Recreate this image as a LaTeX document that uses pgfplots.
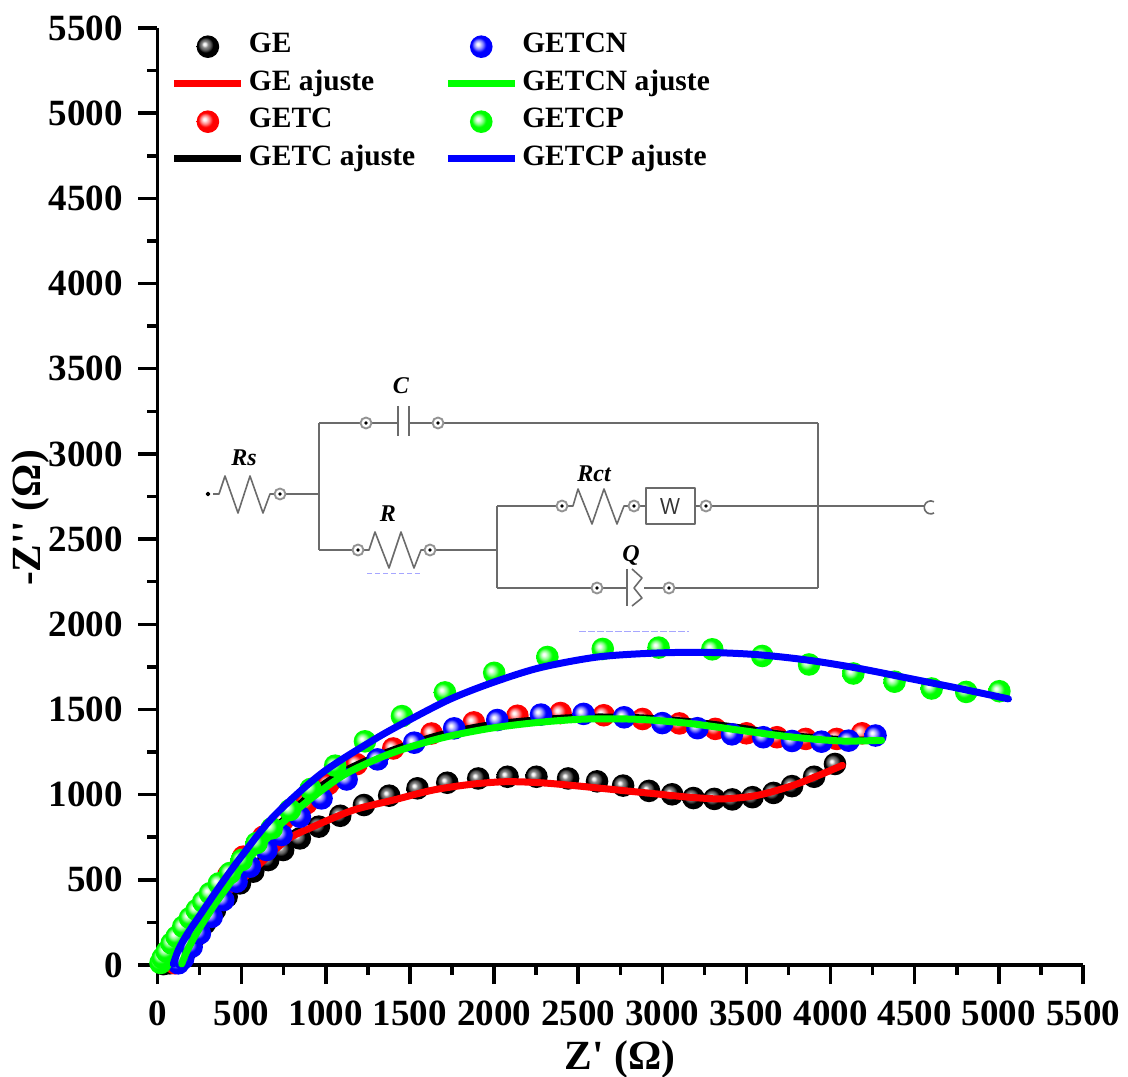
\documentclass[border=0pt]{standalone}
\usepackage{fontspec}
\setmainfont{Liberation Serif}[Ligatures=TeXOff]
\usepackage{pgfplots}
\pgfplotsset{compat=1.18}
\pgfdeclareradialshading{sphk}{\pgfpoint{-8bp}{6bp}}{rgb(0bp)=(1,1,1);rgb(3bp)=(.95,.95,.95);rgb(7bp)=(.55,.55,.55);rgb(12bp)=(.35,.35,.35);rgb(17bp)=(0,0,0);rgb(50bp)=(0,0,0)}
\pgfdeclareradialshading{sphr}{\pgfpoint{-8bp}{6bp}}{rgb(0bp)=(1,1,1);rgb(3bp)=(1,.95,.95);rgb(10bp)=(1,.5,.5);rgb(16bp)=(1,0,0);rgb(50bp)=(1,0,0)}
\pgfdeclareradialshading{sphb}{\pgfpoint{-8bp}{6bp}}{rgb(0bp)=(1,1,1);rgb(3bp)=(.95,.95,1);rgb(10bp)=(.5,.5,1);rgb(16bp)=(0,0,1);rgb(50bp)=(0,0,1)}
\pgfdeclareradialshading{sphg}{\pgfpoint{-8bp}{6bp}}{rgb(0bp)=(1,1,1);rgb(3bp)=(.95,1,.95);rgb(10bp)=(.5,1,.5);rgb(16bp)=(0,1,0);rgb(50bp)=(0,1,0)}
\pgfdeclareplotmark{sphk}{\pgfpathcircle{\pgfpointorigin}{\pgfplotmarksize}\pgfshadepath{sphk}{0}\pgfusepath{discard}}
\pgfdeclareplotmark{sphr}{\pgfpathcircle{\pgfpointorigin}{\pgfplotmarksize}\pgfshadepath{sphr}{0}\pgfusepath{discard}}
\pgfdeclareplotmark{sphb}{\pgfpathcircle{\pgfpointorigin}{\pgfplotmarksize}\pgfshadepath{sphb}{0}\pgfusepath{discard}}
\pgfdeclareplotmark{sphg}{\pgfpathcircle{\pgfpointorigin}{\pgfplotmarksize}\pgfshadepath{sphg}{0}\pgfusepath{discard}}
\pgfplotsset{
 dots/.style={only marks, mark=#1, mark size=11.3pt,
   legend image code/.code={\path (0pt,0pt) (67pt,0pt);\draw[##1] plot coordinates {(33.5pt,-1pt)};}},
 fit/.style={color=#1, line width=7pt, no marks, smooth, tension=0.5, line cap=round, line join=round,
   legend image code/.code={\draw[##1,line cap=butt] (0pt,0pt) -- (67pt,0pt);}},
}
\definecolor{cg}{rgb}{0.42,0.42,0.42}
\begin{document}
\begin{tikzpicture}
\useasboundingbox (-157.5pt,-112pt) rectangle (970.5pt,965pt);
\begin{axis}[
  scale only axis, width=925.5pt, height=937pt, at={(0pt,0pt)}, anchor=south west,
  xmin=0, xmax=5500, ymin=0, ymax=5500, clip=false, clip mode=individual,
  axis lines*=left, axis line style={-, line width=3.7pt},
  xtick distance=500, ytick distance=500, minor tick num=1,
  tick align=outside, tick style={black, line width=3.5pt},
  major tick length=19pt, minor tick length=10pt,
  /pgf/number format/assume math mode=true,
  /pgf/number format/1000 sep={},
  ticklabel style={font=\bfseries\fontsize{37}{37}\selectfont},
  xticklabel style={yshift=-13pt}, yticklabel style={xshift=-12pt},
  xlabel={Z' (Ω)}, ylabel={-Z'' (Ω)},
  xlabel style={font=\bfseries\fontsize{41.5}{41.5}\selectfont, at={(axis description cs:0.4997,-0.101)}, anchor=center},
  ylabel style={font=\bfseries\fontsize{41.5}{41.5}\selectfont, at={(axis description cs:-0.137,0.477)}, anchor=center, rotate=0},
  legend columns=4, transpose legend, legend cell align=left,
  legend style={draw=none, fill=none, at={(axis description cs:0.0145,0.995)}, anchor=north west,
    font=\bfseries\fontsize{29.5}{29.5}\selectfont, inner sep=0pt, outer sep=0pt,
    row sep=11.5pt, nodes={inner sep=0pt, text height=20pt, text depth=6pt},
    /tikz/every even column/.append style={column sep=29pt},
    /tikz/every odd column/.append style={column sep=4pt}},
]
\addplot[dots=sphk] coordinates {(35,5)(74,10)(124,39)(173,88)(223,166)(282,244)(342,323)(411,401)(490,479)(569,548)(658,616)(747,675)(846,743)(959,812)(1086,876)(1227,939)(1377,994)(1545,1037)(1722,1070)(1906,1095)(2080,1105)(2252,1105)(2440,1095)(2612,1078)(2767,1053)(2921,1022)(3058,1002)(3185,980)(3309,975)(3416,972)(3536,985)(3661,1010)(3771,1050)(3902,1105)(4026,1180)};
\addlegendentry{GE}
\addplot[fit=red] coordinates {(140,5)(170,80)(252,225)(411,420)(569,557)(767,733)(926,812)(1163,909)(1401,968)(1638,1027)(1876,1062)(2074,1076)(2272,1070)(2455,1055)(2757,1025)(2958,1005)(3159,985)(3359,975)(3560,995)(3761,1049)(3922,1110)(4070,1172)};
\addlegendentry{GE ajuste}
\addplot[dots=sphr] coordinates {(104,10)(144,59)(183,127)(223,205)(272,303)(332,401)(421,528)(510,636)(629,753)(747,851)(886,949)(1015,1062)(1183,1179)(1401,1271)(1629,1359)(1880,1424)(2139,1463)(2395,1479)(2652,1466)(2883,1444)(3102,1418)(3315,1386)(3500,1360)(3681,1337)(3852,1327)(4036,1327)(4187,1360)};
\addlegendentry{GETC}
\addplot[fit=black] coordinates {(20,10)(60,90)(120,195)(230,345)(350,480)(490,620)(748,850)(926,1015)(1124,1145)(1381,1255)(1678,1350)(1976,1410)(2273,1440)(2550,1455)(2847,1452)(3144,1430)(3441,1395)(3738,1350)(4036,1325)(4200,1320)};
\addlegendentry{GETC ajuste}
\addplot[dots=sphb] coordinates {(124,10)(153,39)(203,107)(252,186)(322,283)(391,381)(470,489)(549,577)(648,675)(737,763)(846,870)(975,978)(1124,1089)(1308,1207)(1526,1305)(1763,1389)(2019,1438)(2279,1470)(2532,1474)(2773,1454)(3000,1420)(3209,1390)(3414,1354)(3600,1337)(3771,1315)(3946,1311)(4107,1317)(4267,1347)};
\addlegendentry{GETCN}
\addplot[fit=green] coordinates {(144,6)(173,78)(243,205)(352,372)(490,558)(589,675)(748,840)(926,988)(1124,1125)(1381,1240)(1678,1330)(1976,1389)(2273,1425)(2556,1444)(2857,1442)(3159,1418)(3460,1378)(3761,1339)(4063,1315)(4304,1319)};
\addlegendentry{GETCN ajuste}
\addplot[dots=sphg] coordinates {(18,12)(31,41)(55,78)(84,127)(114,166)(153,225)(193,276)(233,323)(272,371)(312,421)(365,479)(431,540)(500,616)(589,716)(679,802)(787,910)(910,1033)(1056,1170)(1233,1313)(1453,1461)(1708,1600)(2001,1715)(2317,1808)(2646,1855)(2978,1863)(3297,1853)(3594,1814)(3872,1764)(4135,1711)(4380,1663)(4601,1623)(4806,1603)(5003,1607)};
\addlegendentry{GETCP}
\addplot[fit=blue] coordinates {(94,6)(124,88)(173,176)(253,293)(361,450)(490,626)(688,870)(975,1125)(1282,1320)(1481,1430)(1738,1560)(1995,1659)(2273,1745)(2616,1808)(2958,1831)(3259,1835)(3560,1822)(3862,1790)(4163,1742)(4464,1683)(4766,1623)(5057,1562)};
\addlegendentry{GETCP ajuste}
\end{axis}
\begin{scope}[shift={(-157.5pt,965pt)}, x=1pt, y=-1pt, cg, line width=1.6pt, line join=round]
  \draw[fill=black,draw=black] (208,494) circle (1.5);
  \draw (213,494)--(219,494)--(225,476)--(238,513)--(250,476)--(263,513)--(270,494)--(274,494);
  \draw (286,494)--(319,494);
  \draw (319,423)--(319,550);
  \draw (319,423)--(360,423) (372,423)--(398,423) (409,423)--(432,423) (444,423)--(818,423);
  \draw (398,406)--(398,436) (409,406)--(409,436);
  \draw (319,550)--(352,550);
  \draw (364,550)--(369,550)--(375,532)--(389,568)--(401,532)--(414,568)--(421,550)--(424,550);
  \draw (436,550)--(497,550);
  \draw (497,506)--(497,588);
  \draw (497,506)--(556,506);
  \draw (568,506)--(573,506)--(578,489)--(592,524)--(604,489)--(617,524)--(624,506)--(628,506);
  \draw (640,506)--(646,506);
  \draw (646,488) rectangle (695,524);
  \draw (700,506)--(695,506);
  \draw (712,506)--(925,506);
  \draw (818,423)--(818,588);
  \draw (497,588)--(591,588) (603,588)--(627,588) (644,588)--(663,588) (675,588)--(818,588);
  \draw (627,569)--(627,606);
  \draw (632,569)--(642,578)--(634,588)--(642,598)--(632,606);
  \draw (934,513) arc (60:300:6.5 and 6.5);
  \foreach \px/\py in {280/494,366/423,438/423,358/550,430/550,562/506,634/506,706/506,597/588,669/588}{
    \draw[line width=1.9pt,gray!85] (\px,\py) circle (5.5);
    \fill[black] (\px,\py) circle (1.8);
  }
  \node[text=black!80,font=\sffamily\fontsize{23}{23}\selectfont] at (670,507) {W};
  \begin{scope}[font=\bfseries\itshape\fontsize{24}{24}\selectfont, text=black]
    \node at (401,386) {C};
    \node at (244,458) {Rs};
    \node at (594,474) {Rct};
    \node at (388,514) {R};
    \node at (631,556) {Q};
  \end{scope}
  \draw[blue!35,line width=1pt,dash pattern=on 5pt off 3pt] (367,573.5)--(422,573.5);
  \draw[blue!35,line width=1pt,dash pattern=on 7pt off 2pt] (579,632)--(689,632);
\end{scope}
\end{tikzpicture}
\end{document}
